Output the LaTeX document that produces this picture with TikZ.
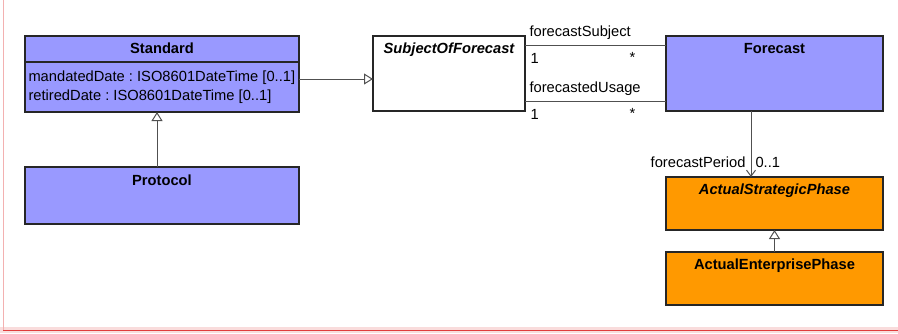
\documentclass[tikz,border=0pt]{standalone}
\usepackage{fontspec}
\setmainfont{Liberation Sans}
\frenchspacing
\usetikzlibrary{arrows.meta, positioning, calc}
\definecolor{cclass}{HTML}{9999FF}
\definecolor{cphase}{HTML}{FF9900}
\definecolor{cline}{HTML}{505050}
\definecolor{cframe}{HTML}{E03C3C}
\tikzset{
  every picture/.style={font=\fontsize{14.7}{19}\selectfont, line width=1pt},
  umlbox/.style={draw=black!85, fill=#1, inner sep=0pt, outer sep=0pt, line width=1.2pt},
  umlbox/.default=white,
  clsname/.style={font=\fontsize{14.7}{19}\selectfont\bfseries, anchor=base, inner sep=0pt},
  absname/.style={clsname, font=\fontsize{14.7}{19}\selectfont\bfseries\itshape},
  attr/.style={anchor=base west, inner sep=0pt},
  role/.style={inner sep=0pt},
  gen/.style={draw=cline, -{Triangle[open, length=9pt, width=11pt, fill=white]}},
  nav/.style={draw=cline, -{Straight Barb[length=6pt, width=9pt]}},
  assoc/.style={draw=cline},
}

\begin{document}
\begin{tikzpicture}[x=1pt, y=-1pt]
  \useasboundingbox (0,0) rectangle (898,333);
  % frame
  \fill[cframe!18] (0,327) rectangle (898,333);
  \draw[cframe!40] (3,0) -- (3,330);
  \draw[cframe] (3,330) -- (898,330);

  % classes
  \node[umlbox=cclass, minimum width=274pt, minimum height=76pt] (std) at (162,74) {};
  \draw[black!85, line width=1.2pt] ([yshift=-26pt]std.north west) -- ([yshift=-26pt]std.north east);
  \node[clsname] at ([yshift=-17pt]std.north) {Standard};
  \node[attr] at (28,81) {mandatedDate : ISO8601DateTime [0..1]};
  \node[attr] at (28,100) {retiredDate : ISO8601DateTime [0..1]};

  \node[umlbox=cclass, minimum width=274pt, minimum height=57pt] (proto) at (162,195.5) {};
  \node[clsname] at ([yshift=-18pt]proto.north) {Protocol};

  \node[umlbox, minimum width=152pt, minimum height=75pt] (sof) at (449,73.5) {};
  \node[absname] at ([yshift=-17pt]sof.north) {SubjectOfForecast};

  \node[umlbox=cclass, minimum width=217pt, minimum height=75pt] (fc) at (774.5,73.5) {};
  \node[clsname] at ([yshift=-17pt]fc.north) {Forecast};

  \node[umlbox=cphase, minimum width=217pt, minimum height=53pt] (asp) at (774.5,203.5) {};
  \node[absname] at ([yshift=-17pt]asp.north) {ActualStrategicPhase};

  \node[umlbox=cphase, minimum width=217pt, minimum height=53pt] (aep) at (774.5,278.5) {};
  \node[clsname] at ([yshift=-17pt]aep.north) {ActualEnterprisePhase};

  % relations
  \draw[gen] (proto.north -| 157,0) -- (std.south -| 157,0);
  \draw[gen] (std.east |- 0,79) -- (sof.west |- 0,79);
  \draw[gen] (aep.north) -- (asp.south);

  \draw[assoc] (sof.east |- 0,45) -- (fc.west |- 0,45);
  \node[role, anchor=base west] at (529,36) {forecastSubject};
  \node[role, anchor=base west] at (530,63) {1};
  \node[role, anchor=base west] at (629,62) {*};

  \draw[assoc] (sof.east |- 0,101) -- (fc.west |- 0,101);
  \node[role, anchor=base west] at (529,92) {forecastedUsage};
  \node[role, anchor=base west] at (530,119) {1};
  \node[role, anchor=base west] at (629,118) {*};

  \draw[nav] (fc.south -| 751,0) -- (asp.north -| 751,0);
  \node[role, anchor=base east] at (746,167) {forecastPeriod};
  \node[role, anchor=base west] at (755,167) {0..1};
\end{tikzpicture}
\end{document}
